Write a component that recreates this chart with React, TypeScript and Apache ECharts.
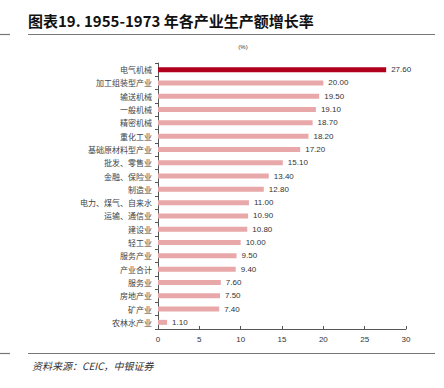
import React, { useEffect, useRef } from "react";
import * as echarts from "echarts";

const categories = [
  "电气机械", "加工组装型产业", "输送机械", "一般机械", "精密机械", "重化工业",
  "基础原材料型产业", "批发、零售业", "金融、保险业", "制造业", "电力、煤气、自来水",
  "运输、通信业", "建设业", "轻工业", "服务产业", "产业合计", "服务业", "房地产业",
  "矿产业", "农林水产业",
];
const values = [27.6, 20.0, 19.5, 19.1, 18.7, 18.2, 17.2, 15.1, 13.4, 12.8, 11.0, 10.9, 10.8, 10.0, 9.5, 9.4, 7.6, 7.5, 7.4, 1.1];
const highlightIndex = 0;
const title = "图表19. 1955-1973 年各产业生产额增长率";
const source = "资料来源：CEIC，中银证券";
const unit = "(%)";

export default function App() {
  const ref = useRef<HTMLDivElement>(null);
  useEffect(() => {
    if (!ref.current) return;
    const chart = echarts.init(ref.current, null, { renderer: "svg" });
    chart.setOption({
      animation: false,
      backgroundColor: "#fff",
      grid: { left: 158, right: 38, top: 63, bottom: 59, containLabel: false },
      xAxis: {
        type: "value",
        min: 0,
        max: 30,
        interval: 5,
        splitLine: { show: false },
        axisLine: { show: true, lineStyle: { color: "#555", width: 1 } },
        axisTick: { show: true, inside: true, length: 3, lineStyle: { color: "#555" } },
        axisLabel: { color: "#333", fontSize: 8, fontFamily: "Liberation Sans", margin: 6 },
      },
      yAxis: {
        type: "category",
        data: categories,
        inverse: true,
        axisLine: { show: true, lineStyle: { color: "#555", width: 1 } },
        axisTick: { show: true, length: 3, lineStyle: { color: "#555" } },
        axisLabel: { color: "#444", fontSize: 8, fontFamily: "Noto Sans CJK SC", margin: 6 },
      },
      series: [
        {
          type: "bar",
          data: values.map((v, i) => ({
            value: v,
            itemStyle: { color: i === highlightIndex ? "#B0001E" : "#E8A8AA" },
          })),
          barWidth: 5,
          label: {
            show: true,
            position: "right",
            distance: 5,
            formatter: (p: any) => Number(p.value).toFixed(2),
            color: "#333",
            fontSize: 8,
            fontFamily: "Liberation Sans",
          },
        },
      ],
      graphic: [
        {
          type: "text",
          left: 28,
          top: 13,
          style: { text: title, font: "bold 15px 'Noto Sans CJK SC'", fill: "#111" },
        },
        { type: "line", shape: { x1: 0, y1: 34.5, x2: 10, y2: 34.5 }, style: { stroke: "#777", lineWidth: 1.2 } },
        { type: "line", shape: { x1: 28, y1: 34.5, x2: 435, y2: 34.5 }, style: { stroke: "#777", lineWidth: 1.2 } },
        {
          type: "text",
          x: 243,
          y: 47,
          style: { text: unit, font: "6px 'Liberation Sans'", fill: "#333", textAlign: "center", textVerticalAlign: "middle" },
        },
        { type: "line", shape: { x1: 0, y1: 353.5, x2: 10, y2: 353.5 }, style: { stroke: "#777", lineWidth: 1.2 } },
        { type: "line", shape: { x1: 28, y1: 353.5, x2: 435, y2: 353.5 }, style: { stroke: "#777", lineWidth: 1.2 } },
        {
          type: "text",
          left: 32,
          top: 360,
          style: { text: source, font: "italic 10px 'Noto Sans CJK SC'", fill: "#333" },
        },
      ],
    });
    return () => chart.dispose();
  }, []);
  return <div ref={ref} style={{ width: 444, height: 388, position: "absolute", left: 0, top: 0 }} />;
}
